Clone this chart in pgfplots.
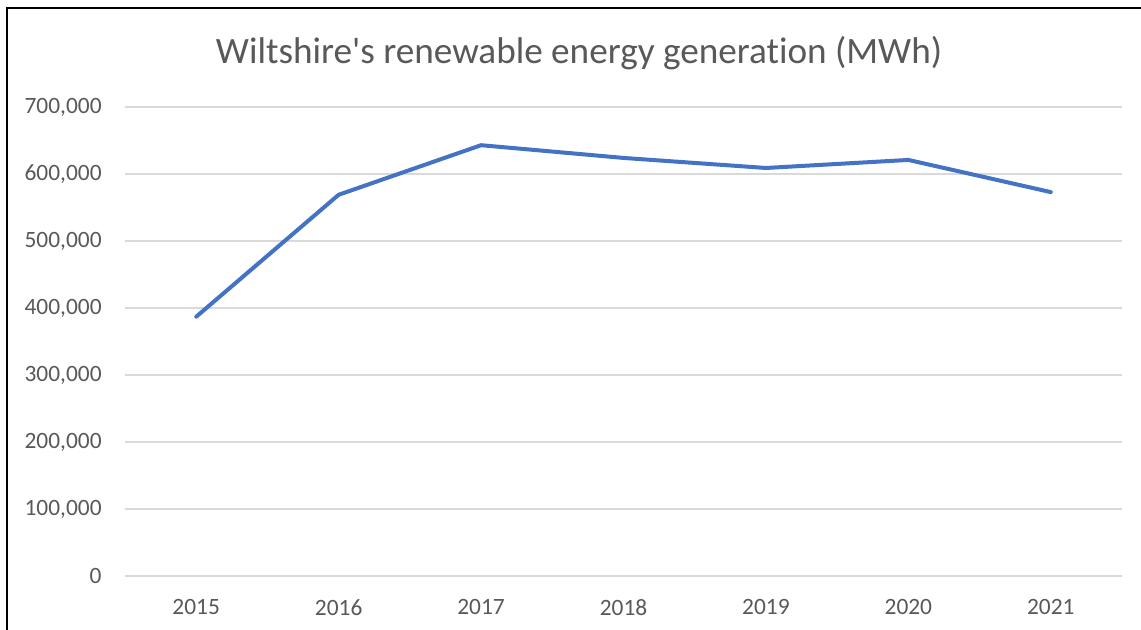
\documentclass[border=0pt]{standalone}
\usepackage{pgfplots}
\pgfplotsset{compat=1.18}
\usepackage{fontspec}
\setmainfont{Carlito}[Ligatures={TeXOff,NoCommon}]

\definecolor{textgray}{HTML}{595959}
\definecolor{gridgray}{HTML}{D9D9D9}
\definecolor{lineblue}{HTML}{4472C4}

\begin{document}
\begin{tikzpicture}
% one pixel of the reference = 0.5pt, origin at top left
\useasboundingbox (0pt,0pt) rectangle (570.5pt,-315pt);
\fill[white] (0pt,0pt) rectangle (570.5pt,-315pt);
\draw[black, line width=1pt] (3.5pt,-315pt) -- (3.5pt,-4pt) -- (570.5pt,-4pt);

\node[anchor=base, text=textgray, font=\fontsize{18.6}{22}\selectfont, inner sep=0pt]
  at (289.5pt,-32pt) {Wiltshire's renewable energy generation (MWh)};

\begin{axis}[
at={(62.5pt,-288pt)},
anchor=south west,
scale only axis,
width=498.5pt,
height=234.5pt,
xmin=2014.5, xmax=2021.5,
ymin=0, ymax=700000,
xtick={2015,2016,2017,2018,2019,2020,2021},
xticklabels={2015,2016,2017,2018,2019,2020,2021},
ytick={0,100000,200000,300000,400000,500000,600000,700000},
scaled y ticks=false,
/pgf/number format/fixed,
/pgf/number format/1000 sep={,},
/pgf/number format/assume math mode=true,
axis line style={draw=none},
tick style={draw=none},
major tick length=0pt,
ymajorgrids,
y grid style={gridgray, line width=0.75pt},
tick label style={font=\fontsize{11.7}{14}\selectfont, text=textgray, inner sep=0pt},
x tick label style={yshift=-11.5pt, anchor=north},
y tick label style={xshift=-11.5pt, anchor=east},
clip=false,
]
\addplot [lineblue, line width=2pt, line cap=round, line join=round]
table {%
2015 387000
2016 569000
2017 643000
2018 624000
2019 609000
2020 621000
2021 573000
};
\end{axis}
\end{tikzpicture}
\end{document}
